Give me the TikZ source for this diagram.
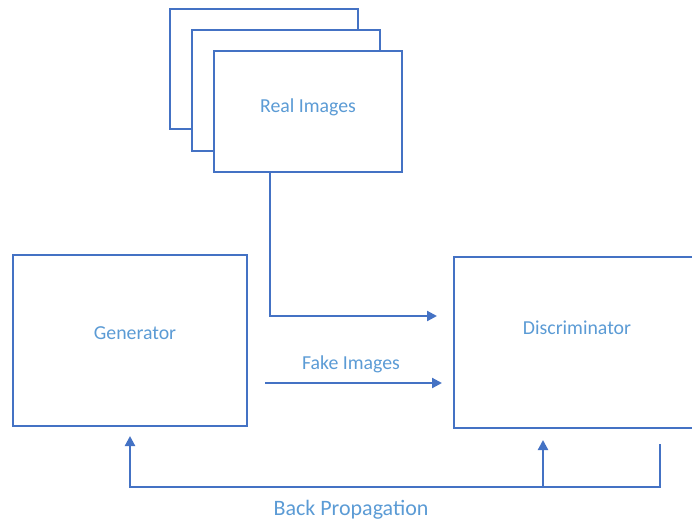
\documentclass[tikz,border=0pt]{standalone}
\usepackage{fontspec}
\setmainfont{Carlito}
\usetikzlibrary{arrows.meta}
\definecolor{lineblue}{HTML}{4472C4}
\definecolor{textblue}{HTML}{5B9BD5}
\begin{document}
\begin{tikzpicture}[x=1pt,y=-1pt,
  box/.style={draw=lineblue, line width=2.6pt, fill=white, rectangle, inner sep=0pt, outer sep=0pt},
  lbl/.style={text=textblue, font=\fontsize{19.8}{23}\selectfont, inner sep=0pt},
  conn/.style={draw=lineblue, line width=2.2pt, -{Triangle[length=10pt,width=10pt]}}]
\useasboundingbox (0,0) rectangle (692,523);
\clip (0,0) rectangle (692,523);
% stacked real image boxes
\node[box, minimum width=188pt, minimum height=120pt] (back) at (264,69) {};
\node[box, minimum width=188pt, minimum height=121pt] (mid) at (286,90.5) {};
\node[box, minimum width=188pt, minimum height=121pt] (real) at (308,111.5) {};
\node[lbl] (reallbl) at (308,107) {Real Images};
% generator and discriminator
\node[box, minimum width=234pt, minimum height=171pt] (gen) at (130,340.5) {};
\node[lbl] (genlbl) at (135,333) {Generator};
\node[box, minimum width=306pt, minimum height=171pt] (disc) at (607,342.5) {};
\node[lbl] (disclbl) at (577,328) {Discriminator};
% connectors
\draw[conn] ([xshift=-38pt]real.south) |- ([xshift=-17pt,yshift=26.5pt]disc.west);
\draw[conn] ([xshift=18pt,yshift=-42.5pt]gen.east) -- ([xshift=-12pt,yshift=-40.5pt]disc.west);
\node[lbl] (fakelbl) at (351,364) {Fake Images};
\draw[conn] ([xshift=206pt,yshift=-16pt]disc.south west) -- ++(0,43) -| ([yshift=-10pt]gen.south);
\draw[conn] ([xshift=89pt,yshift=-59pt]disc.south west) -- ([xshift=89pt,yshift=-12pt]disc.south west);
\node[lbl, font=\fontsize{22}{26}\selectfont] (bplbl) at (351,510) {Back Propagation};
\end{tikzpicture}
\end{document}
